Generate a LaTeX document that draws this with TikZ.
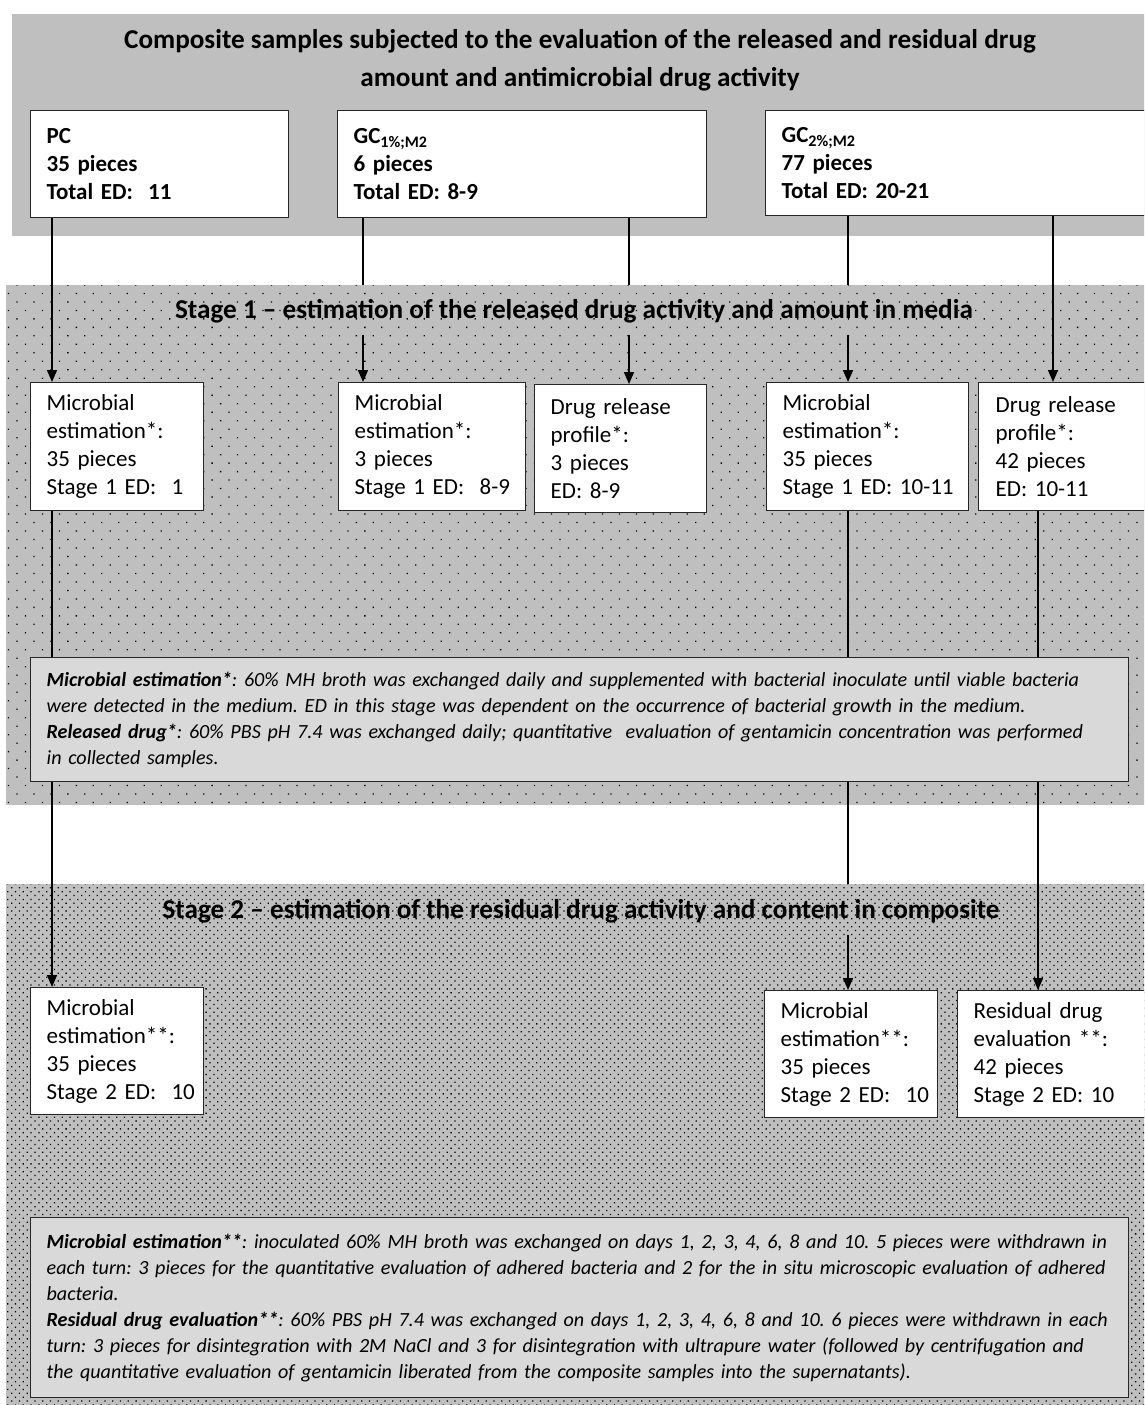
\documentclass[tikz,border=0pt]{standalone}
\usepackage{fontspec}
\setmainfont{Carlito}
\usetikzlibrary{positioning,calc,arrows.meta,patterns.meta}
\definecolor{bandgray}{HTML}{BFBFBF}
\definecolor{notegray}{HTML}{D9D9D9}
\frenchspacing
\hyphenpenalty=10000
\exhyphenpenalty=10000
\newcommand{\noteline}[1]{\mbox{#1}}
\tikzset{
    band/.style={
    rectangle,draw=none,fill=bandgray,anchor=north west,inner sep=0pt
    },
    dotband/.style={
    band,postaction={pattern={Dots[distance=#1,angle=45,radius=0.9pt]},pattern color=black}
    },
    sample/.style={
    rectangle,draw=black!85,line width=1.3pt,fill=white,anchor=north west,
    align=left,inner xsep=16pt,inner ysep=0pt,font=\fontsize{23}{28}\selectfont
    },
    group/.style={
    sample,font=\bfseries\fontsize{23}{28}\selectfont
    },
    note/.style={
    sample,fill=notegray,font=\itshape\fontsize{20.1}{26}\selectfont
    },
    heading/.style={
    font=\bfseries\fontsize{27.2}{38}\selectfont,align=center,inner sep=0pt
    },
    flow/.style={line width=1.5pt},
    arr/.style={flow,-{Triangle[width=10pt,length=12pt]}},
}

\begin{document}
\begin{tikzpicture}[x=1pt,y=-1pt]
   \useasboundingbox (0,0) rectangle (1144,1405);
   \clip (0,0) rectangle (1144,1405);

   % backgrounds
   \node[band,minimum width=1140,minimum height=222] (top) at (12,14) {};
   \node[dotband=12pt,minimum width=1150,minimum height=520] (s1) at (6,285) {};
   \node[dotband=5.5pt,minimum width=1150,minimum height=530] (s2) at (6,884) {};

   \node[heading] (title) at (580,60) {Composite samples subjected to the evaluation of the released and residual drug\\amount and antimicrobial drug activity};
   \node[heading] (t1) at (574,311) {Stage 1 -- estimation of the released drug activity and amount in media};
   \node[heading] (t2) at (581,911) {Stage 2 -- estimation of the residual drug activity and content in composite};

   % x positions of the connectors
   \coordinate (xa) at (52,0);
   \coordinate (xb) at (363,0);
   \coordinate (xc) at (629,0);
   \coordinate (xd) at (848,0);
   \coordinate (xe) at (1053,0);
   \coordinate (xf) at (1038,0);
   \coordinate (in1) at (0,335);
   \coordinate (in2) at (0,935);

   % groups
   \node[group,text width=226,minimum height=107] (pc) at (30,110) {PC\\35 pieces\\Total ED:~~11};
   \node[group,text width=337,minimum height=107] (gc1) at (337,110) {GC\textsubscript{1\%;M2}\\6 pieces\\Total ED: 8-9};
   \node[group,text width=368,minimum height=105] (gc2) at (765,110) {GC\textsubscript{2\%;M2}\\77 pieces\\Total ED: 20-21};

   % stage 1
   \node[sample,text width=141,minimum height=128] (b1) at (30,382) {Microbial\\estimation*:\\35 pieces\\Stage~1~ED:~~1};
   \node[sample,text width=155,minimum height=128] (b2) at (338,382) {Microbial\\estimation*:\\3 pieces\\Stage~1~ED:~~8-9};
   \node[sample,text width=140,minimum height=128] (b3) at (534,384) {Drug release\\profile*:\\3 pieces\\ED: 8-9};
   \node[sample,text width=170,minimum height=128] (b4) at (766,382) {Microbial\\estimation*:\\35 pieces\\Stage~1~ED:~10-11};
   \node[sample,text width=160,minimum height=128,inner xsep=17pt] (b5) at (978,382) {Drug release\\profile*:\\42 pieces\\ED: 10-11};

   % stage 2
   \node[sample,text width=141,minimum height=127] (c1) at (30,987) {Microbial\\estimation**:\\35 pieces\\Stage~2~ED:~~10};
   \node[sample,text width=141,minimum height=127] (c2) at (764,990) {Microbial\\estimation**:\\35 pieces\\Stage~2~ED:~~10};
   \node[sample,text width=170,minimum height=127] (c3) at (957,990) {Residual drug\\evaluation **:\\42 pieces\\Stage~2~ED:~10};

   % connectors
   \draw[arr] (xa |- pc.south) -- (xa |- b1.north);
   \draw[flow] (xb |- gc1.south) -- (xb |- s1.north);
   \draw[arr] (xb |- in1) -- (xb |- b2.north);
   \draw[flow] (xc |- gc1.south) -- (xc |- s1.north);
   \draw[arr] (xc |- in1) -- (xc |- b3.north);
   \draw[flow] (xd |- gc2.south) -- (xd |- s1.north);
   \draw[arr] (xd |- in1) -- (xd |- b4.north);
   \draw[arr] (xe |- gc2.south) -- (xe |- b5.north);
   \draw[arr] (xa |- b1.south) -- (xa |- c1.north);
   \draw[flow] (xd |- b4.south) -- (xd |- s2.north);
   \draw[arr] (xd |- in2) -- (xd |- c2.north);
   \draw[arr] (xf |- b5.south) -- (xf |- c3.north);

   % notes
   \node[note,text width=1066,minimum height=124] (n1) at (30,657) {\noteline{\textbf{Microbial estimation*}: 60\% MH broth was exchanged daily and supplemented with bacterial inoculate until viable bacteria}\\
   \noteline{were detected in the medium. ED in this stage was dependent on the occurrence of bacterial growth in the medium.}\\
   \noteline{\textbf{Released drug*}: 60\% PBS pH 7.4 was exchanged daily; quantitative~ evaluation of gentamicin concentration was performed}\\
   \noteline{in collected samples.}};
   \node[note,text width=1066,minimum height=180] (n2) at (30,1217) {\noteline{\textbf{Microbial estimation**}: inoculated 60\% MH broth was exchanged on days 1, 2, 3, 4, 6, 8 and 10. 5 pieces were withdrawn in}\\
   \noteline{each turn: 3 pieces for the quantitative evaluation of adhered bacteria and 2 for the in situ microscopic evaluation of adhered}\\
   \noteline{bacteria.}\\
   \noteline{\textbf{Residual drug evaluation**}: 60\% PBS pH 7.4 was exchanged on days 1, 2, 3, 4, 6, 8 and 10. 6 pieces were withdrawn in each}\\
   \noteline{turn: 3 pieces for disintegration with 2M NaCl and 3 for disintegration with ultrapure water (followed by centrifugation and}\\
   \noteline{the quantitative evaluation of gentamicin liberated from the composite samples into the supernatants).}};
\end{tikzpicture}
\end{document}
